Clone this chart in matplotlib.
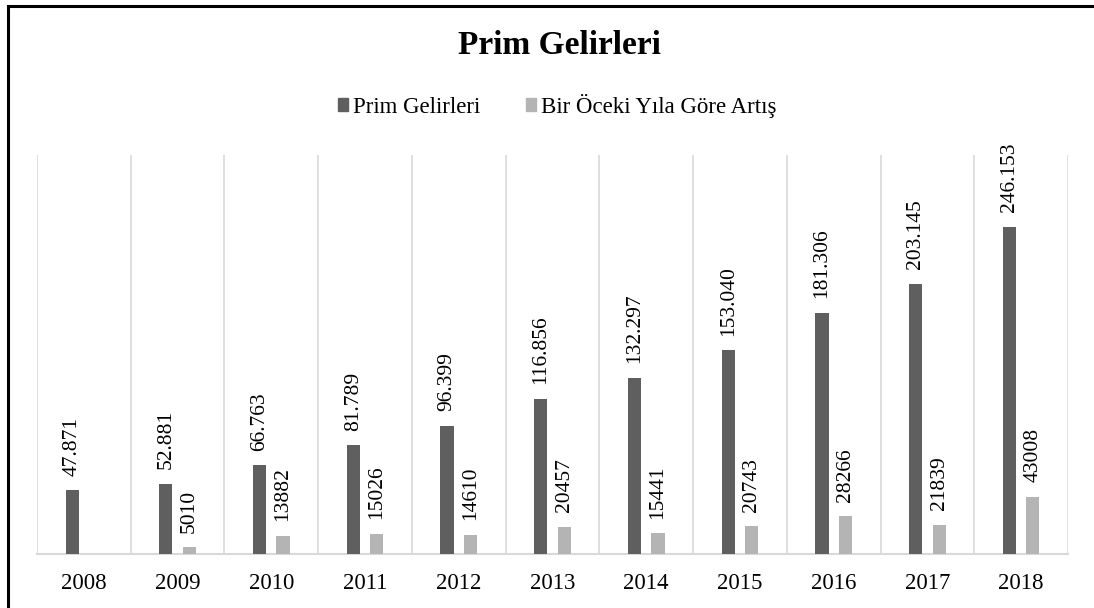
import numpy as np
import matplotlib.pyplot as plt
from matplotlib.patches import Rectangle

plt.rcParams['font.family'] = ['Liberation Serif', 'DejaVu Serif']

years = ['2008', '2009', '2010', '2011', '2012', '2013', '2014', '2015', '2016', '2017', '2018']
prim = [47871, 52881, 66763, 81789, 96399, 116856, 132297, 153040, 181306, 203145, 246153]
prim_labels = ['47.871', '52.881', '66.763', '81.789', '96.399', '116.856', '132.297',
               '153.040', '181.306', '203.145', '246.153']
artis = [None, 5010, 13882, 15026, 14610, 20457, 15441, 20743, 28266, 21839, 43008]

dark = '#5f5f5f'
light = '#b4b4b4'
grid_c = '#d9d9d9'

fig = plt.figure(figsize=(10.94, 6.08), dpi=100)
ax = fig.add_axes([37 / 1094, 1 - 554 / 608, (1068 - 37) / 1094, (554 - 155) / 608])

x = np.arange(len(years))
w = 0.14
off = 0.125

ax.bar(x - off, prim, width=w, color=dark, zorder=3)
artis_vals = [v if v is not None else 0 for v in artis]
ax.bar(x + off, artis_vals, width=w, color=light, zorder=3)

# value labels, rotated like the original
for i in range(len(years)):
    ax.annotate(prim_labels[i], (x[i] - off, prim[i]), xytext=(0, 10.5),
                textcoords='offset points', rotation=90, ha='center', va='bottom',
                fontsize=15.5)
    if artis[i] is not None:
        ax.annotate(str(artis[i]), (x[i] + off, artis[i]), xytext=(0, 10.5),
                    textcoords='offset points', rotation=90, ha='center', va='bottom',
                    fontsize=15.5)

ax.set_xlim(-0.5, len(years) - 0.5)
ax.set_ylim(0, 300000)

# category separators
for b in np.arange(-0.5, len(years), 1.0):
    ax.axvline(b, color=grid_c, lw=1.2, zorder=1)

for s in ['top', 'right', 'left']:
    ax.spines[s].set_visible(False)
ax.spines['bottom'].set_color(grid_c)
ax.spines['bottom'].set_linewidth(1.5)

ax.set_yticks([])
ax.set_xticks(x)
ax.set_xticklabels(years, fontsize=16.5)
ax.tick_params(axis='x', length=0, pad=14)

fig.text(0.511, 0.925, 'Prim Gelirleri', ha='center', va='center',
         fontsize=24, fontweight='bold')

handles = [Rectangle((0, 0), 1, 1, color=dark), Rectangle((0, 0), 1, 1, color=light)]
fig.legend(handles, ['Prim Gelirleri', 'Bir Öceki Yıla Göre Artış'], loc='center',
           bbox_to_anchor=(0.509, 0.826), ncol=2, frameon=False, fontsize=16.5,
           handlelength=0.45, handleheight=0.45, handletextpad=0.2, columnspacing=2.0)

# outer frame (only left and top edges fall inside the picture)
fig.add_artist(Rectangle((8 / 1094, -0.1), 1.2, 1.1 - 6 / 608, transform=fig.transFigure,
                         fill=False, edgecolor='black', lw=2.2))

fig.savefig('out.png', dpi=100)
